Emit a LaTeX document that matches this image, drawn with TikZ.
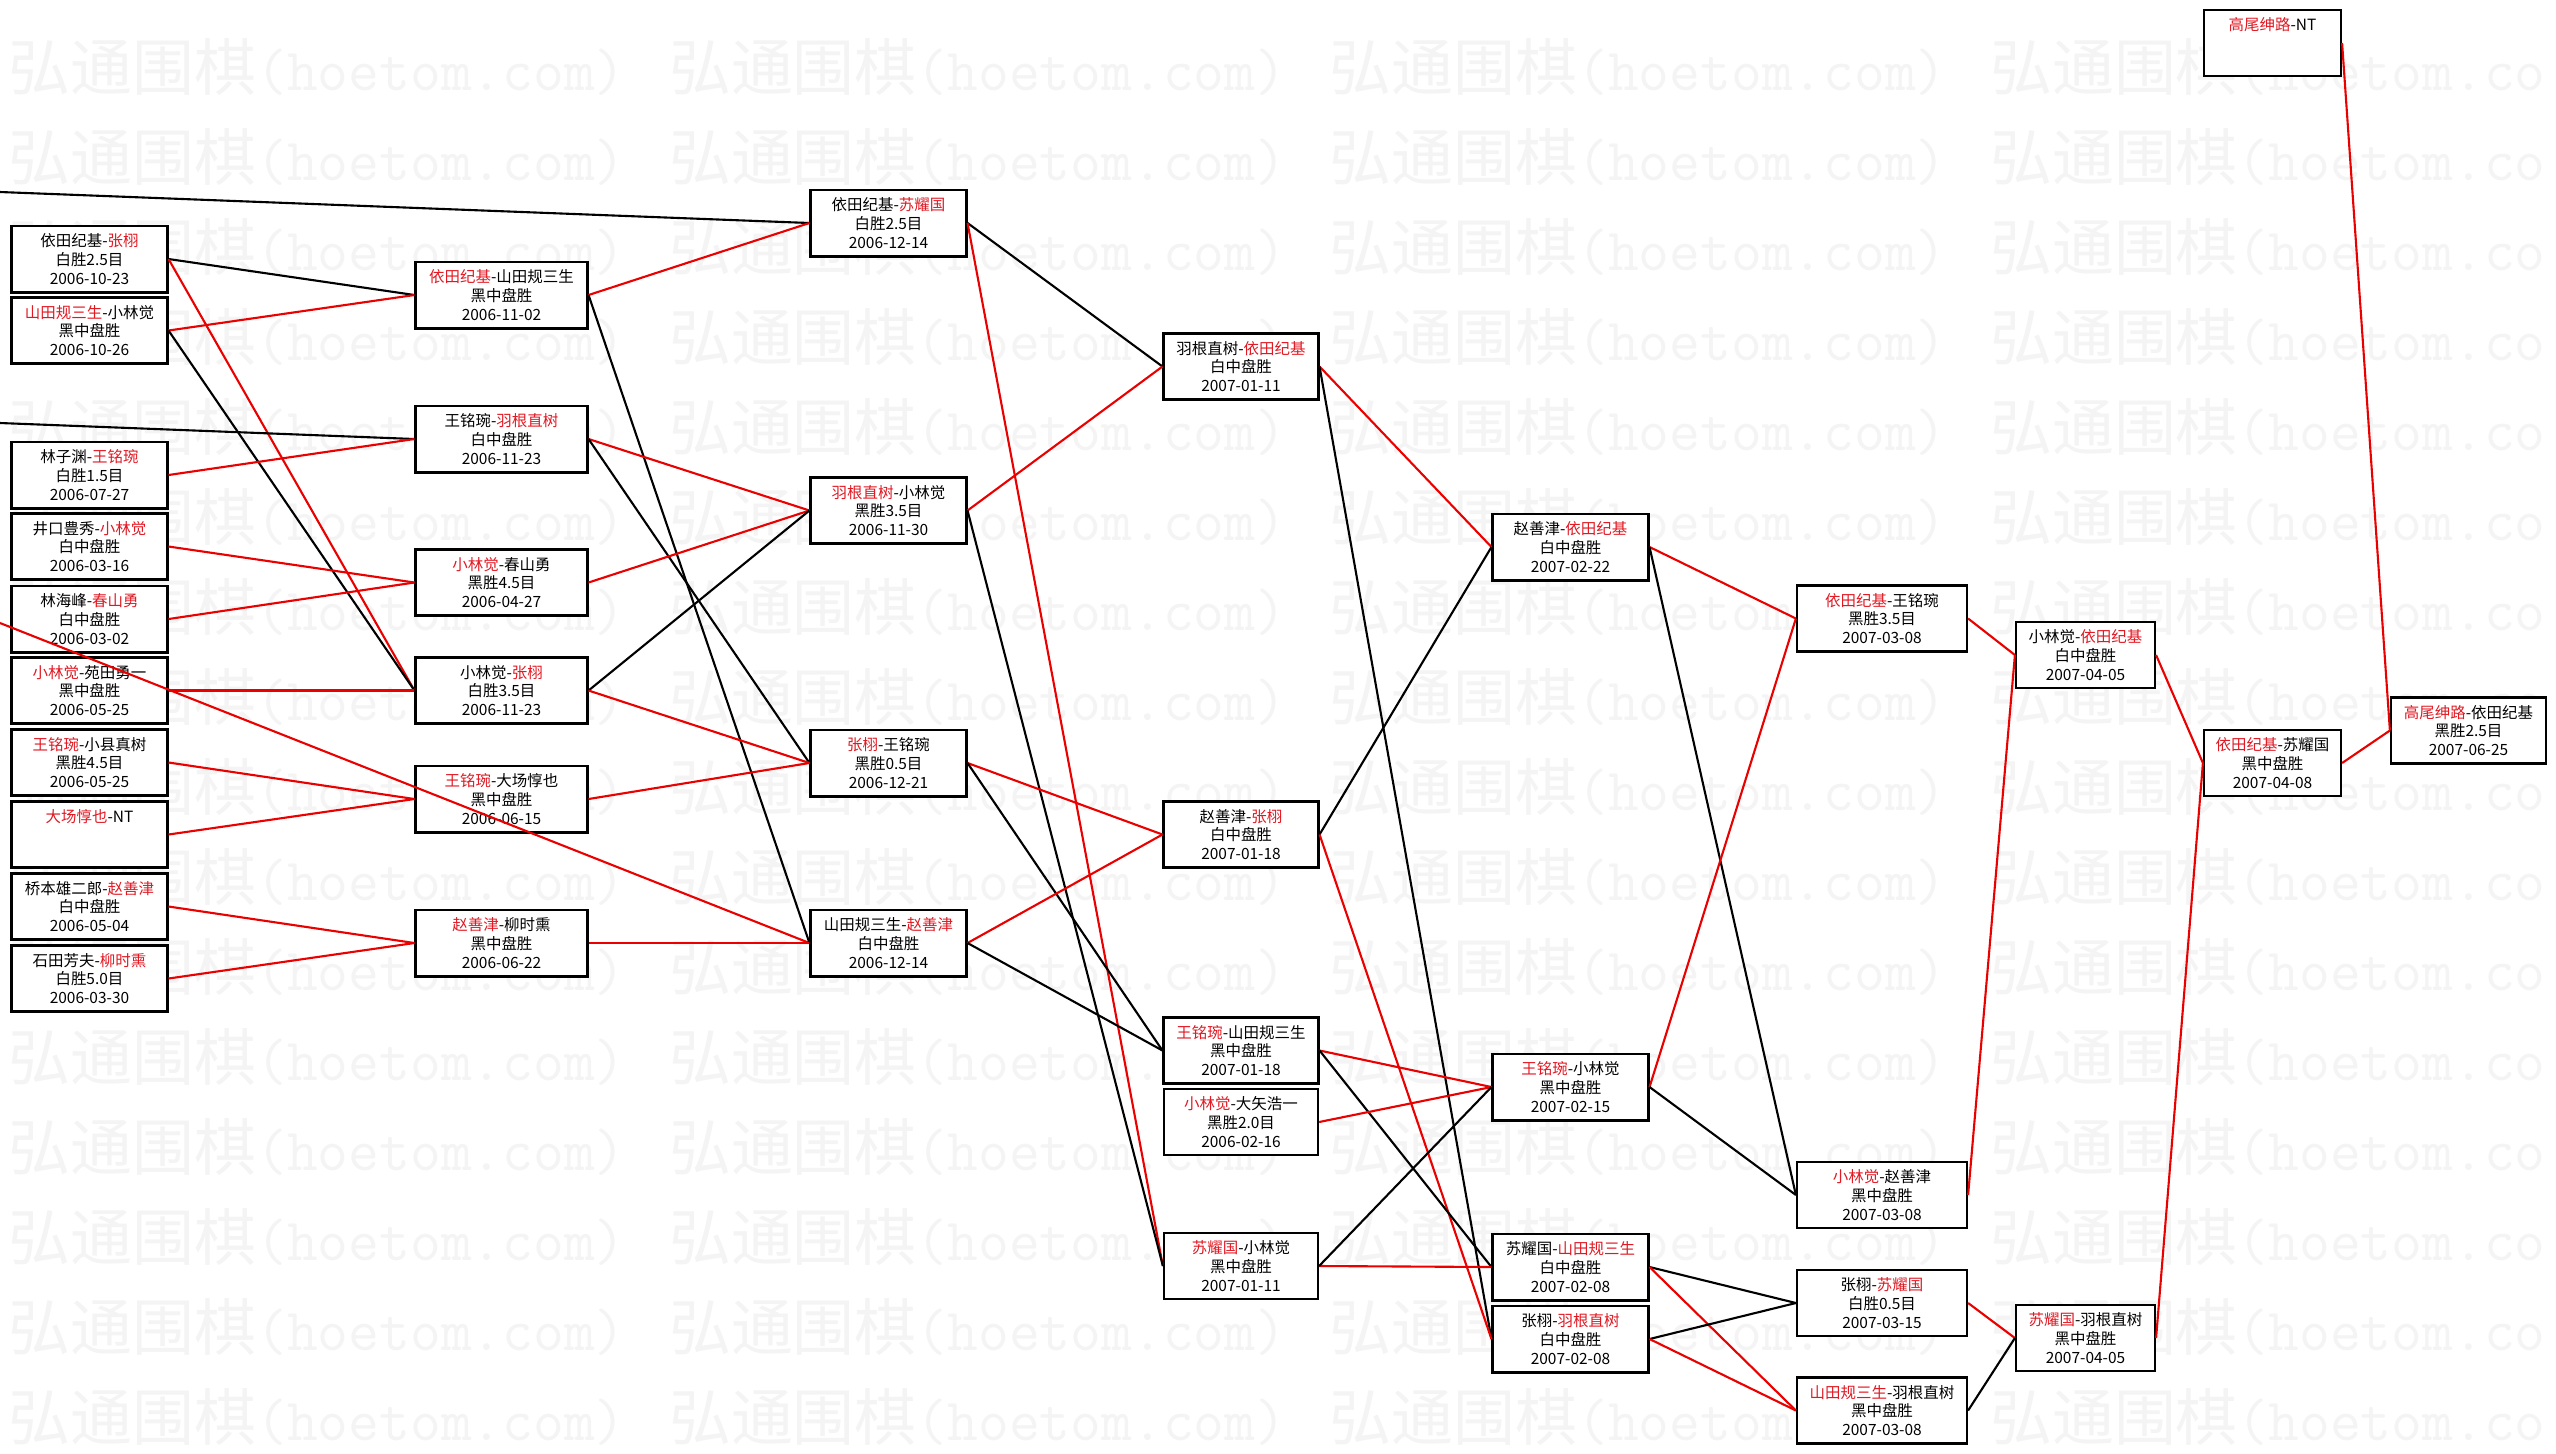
\documentclass[tikz,border=0pt]{standalone}
\usepackage{fontspec}
\setmainfont{Noto Sans CJK SC}
\definecolor{tred}{RGB}{225,25,35}
\definecolor{lred}{RGB}{235,0,0}
\definecolor{wmgray}{RGB}{244,244,244}
\newcommand{\R}[1]{\textcolor{tred}{#1}}
\newcommand{\wmlat}[1]{{\ttfamily\fontsize{17pt}{18pt}\selectfont #1}}
\tikzset{
  game/.style={draw=black, line width=0.85pt, fill=white, minimum height=0.66cm,
    inner sep=0pt, align=center, font=\fontsize{4.4pt}{5.35pt}\selectfont},
  thin game/.style={game, line width=0.6pt},
  wm/.style={anchor=west, inner sep=0pt, text=wmgray, font=\fontsize{17.6pt}{18pt}\selectfont},
  kline/.style={draw=black, line width=0.6pt},
  rline/.style={draw=lred, line width=0.6pt}
}
\begin{document}
\begin{tikzpicture}[x=0.01cm,y=-0.01cm]
\useasboundingbox (0,0) rectangle (2556,1453);
\fill[white] (0,0) rectangle (2556,1453);
% watermark
\foreach \r in {0,...,15}{
  \foreach \c in {0,1,2}{
    \node[wm] (wm-\r-\c) at ({8+660.5*\c},{67+90*\r}) {弘通围棋\wmlat{(hoetom.com)}};
  }
  \node[wm] (wm-\r-3) at (1989.5,{67+90*\r}) {弘通围棋\wmlat{(hoetom.co}};
}
% column 1
\begin{scope}[every node/.append style={game, minimum width=1.55cm}]
\node (c1a) at (89.5,259) {依田纪基-\R{张栩}\\白胜2.5目\\2006-10-23};
\node (c1b) at (89.5,330.5) {\R{山田规三生}-小林觉\\黑中盘胜\\2006-10-26};
\node (c1c) at (89.5,475) {林子渊-\R{王铭琬}\\白胜1.5目\\2006-07-27};
\node (c1d) at (89.5,546.5) {井口豊秀-\R{小林觉}\\白中盘胜\\2006-03-16};
\node (c1e) at (89.5,619) {林海峰-\R{春山勇}\\白中盘胜\\2006-03-02};
\node (c1f) at (89.5,690.5) {\R{小林觉}-苑田勇一\\黑中盘胜\\2006-05-25};
\node (c1g) at (89.5,762.5) {\R{王铭琬}-小县真树\\黑胜4.5目\\2006-05-25};
\node (c1h) at (89.5,834.5) {\R{大场惇也}-NT\\~\\~};
\node (c1i) at (89.5,906.5) {桥本雄二郎-\R{赵善津}\\白中盘胜\\2006-05-04};
\node (c1j) at (89.5,978.5) {石田芳夫-\R{柳时熏}\\白胜5.0目\\2006-03-30};
\end{scope}
% column 2
\begin{scope}[every node/.append style={game, minimum width=1.71cm}]
\node (c2a) at (501.5,295) {\R{依田纪基}-山田规三生\\黑中盘胜\\2006-11-02};
\node (c2b) at (501.5,439) {王铭琬-\R{羽根直树}\\白中盘胜\\2006-11-23};
\node (c2c) at (501.5,582.5) {\R{小林觉}-春山勇\\黑胜4.5目\\2006-04-27};
\node (c2d) at (501.5,690.5) {小林觉-\R{张栩}\\白胜3.5目\\2006-11-23};
\node (c2e) at (501.5,799) {\R{王铭琬}-大场惇也\\黑中盘胜\\2006-06-15};
\node (c2f) at (501.5,943) {\R{赵善津}-柳时熏\\黑中盘胜\\2006-06-22};
\end{scope}
% column 3
\begin{scope}[every node/.append style={game, minimum width=1.55cm}]
\node (c3a) at (888.5,223) {依田纪基-\R{苏耀国}\\白胜2.5目\\2006-12-14};
\node (c3b) at (888.5,510.5) {\R{羽根直树}-小林觉\\黑胜3.5目\\2006-11-30};
\node (c3c) at (888.5,763) {\R{张栩}-王铭琬\\黑胜0.5目\\2006-12-21};
\node (c3d) at (888.5,943) {山田规三生-\R{赵善津}\\白中盘胜\\2006-12-14};
\end{scope}
% column 4
\begin{scope}[every node/.append style={game, minimum width=1.54cm}]
\node (c4a) at (1241,366.5) {羽根直树-\R{依田纪基}\\白中盘胜\\2007-01-11};
\node (c4b) at (1241,834.5) {赵善津-\R{张栩}\\白中盘胜\\2007-01-18};
\node (c4c) at (1241,1050.5) {\R{王铭琬}-山田规三生\\黑中盘胜\\2007-01-18};
\node[line width=0.6pt] (c4d) at (1241,1122) {\R{小林觉}-大矢浩一\\黑胜2.0目\\2006-02-16};
\node[line width=0.6pt] (c4e) at (1241,1266) {\R{苏耀国}-小林觉\\黑中盘胜\\2007-01-11};
\end{scope}
% column 5
\begin{scope}[every node/.append style={game, minimum width=1.55cm}]
\node (c5a) at (1570.5,547) {赵善津-\R{依田纪基}\\白中盘胜\\2007-02-22};
\node (c5b) at (1570.5,1087) {\R{王铭琬}-小林觉\\黑中盘胜\\2007-02-15};
\node (c5c) at (1570.5,1267) {苏耀国-\R{山田规三生}\\白中盘胜\\2007-02-08};
\node (c5d) at (1570.5,1339) {张栩-\R{羽根直树}\\白中盘胜\\2007-02-08};
\end{scope}
% column 6
\begin{scope}[every node/.append style={thin game, minimum width=1.70cm}]
\node (c6a) at (1882,618.5) {\R{依田纪基}-王铭琬\\黑胜3.5目\\2007-03-08};
\node (c6b) at (1882,1195) {\R{小林觉}-赵善津\\黑中盘胜\\2007-03-08};
\node (c6c) at (1882,1303) {张栩-\R{苏耀国}\\白胜0.5目\\2007-03-15};
\node (c6d) at (1882,1410.5) {\R{山田规三生}-羽根直树\\黑中盘胜\\2007-03-08};
\end{scope}
% columns 7-9
\begin{scope}[every node/.append style={thin game, minimum width=1.39cm}]
\node (c7a) at (2085.5,655) {小林觉-\R{依田纪基}\\白中盘胜\\2007-04-05};
\node (c7b) at (2085.5,1338) {\R{苏耀国}-羽根直树\\黑中盘胜\\2007-04-05};
\end{scope}
\begin{scope}[every node/.append style={thin game, minimum width=1.37cm}]
\node (c8a) at (2272.5,43) {\R{高尾绅路}-NT\\~\\~};
\node (c8b) at (2272.5,763) {\R{依田纪基}-苏耀国\\黑中盘胜\\2007-04-08};
\end{scope}
\node[thin game, minimum width=1.55cm] (c9a) at (2468.5,730.5) {\R{高尾绅路}-依田纪基\\黑胜2.5目\\2007-06-25};
% free ends
\coordinate (f1) at (0,192);
\coordinate (f2) at (0,423);
\coordinate (f3) at (0,623);
% connectors
\draw[kline] (f1) -- (c3a.west);
\draw[kline] (c1a.east) -- (c2a.west);
\draw[rline] (c1a.east) -- (c2d.west);
\draw[rline] (c1b.east) -- (c2a.west);
\draw[kline] (c1b.east) -- (c2d.west);
\draw[kline] (f2) -- (c2b.west);
\draw[rline] (c1c.east) -- (c2b.west);
\draw[rline] (c1d.east) -- (c2c.west);
\draw[rline] (c1e.east) -- (c2c.west);
\draw[rline] (c1f.east) -- (c2d.west);
\draw[rline] (f3) -- (c3d.west);
\draw[rline] (c1g.east) -- (c2e.west);
\draw[rline] (c1h.east) -- (c2e.west);
\draw[rline] (c1i.east) -- (c2f.west);
\draw[rline] (c1j.east) -- (c2f.west);
\draw[rline] (c2a.east) -- (c3a.west);
\draw[kline] (c2a.east) -- (c3d.west);
\draw[rline] (c2b.east) -- (c3b.west);
\draw[kline] (c2b.east) -- (c3c.west);
\draw[rline] (c2c.east) -- (c3b.west);
\draw[kline] (c2d.east) -- (c3b.west);
\draw[rline] (c2d.east) -- (c3c.west);
\draw[rline] (c2e.east) -- (c3c.west);
\draw[rline] (c2f.east) -- (c3d.west);
\draw[kline] (c3a.east) -- (c4a.west);
\draw[rline] (c3a.east) -- (c4e.west);
\draw[rline] (c3b.east) -- (c4a.west);
\draw[kline] (c3b.east) -- (c4e.west);
\draw[rline] (c3c.east) -- (c4b.west);
\draw[kline] (c3c.east) -- (c4c.west);
\draw[rline] (c3d.east) -- (c4b.west);
\draw[kline] (c3d.east) -- (c4c.west);
\draw[rline] (c4a.east) -- (c5a.west);
\draw[kline] (c4a.east) -- (c5d.west);
\draw[kline] (c4b.east) -- (c5a.west);
\draw[rline] (c4b.east) -- (c5d.west);
\draw[rline] (c4c.east) -- (c5b.west);
\draw[kline] (c4c.east) -- (c5c.west);
\draw[rline] (c4d.east) -- (c5b.west);
\draw[rline] (c4e.east) -- (c5c.west);
\draw[kline] (c4e.east) -- (c5b.west);
\draw[rline] (c5a.east) -- (c6a.west);
\draw[kline] (c5a.east) -- (c6b.west);
\draw[rline] (c5b.east) -- (c6a.west);
\draw[kline] (c5b.east) -- (c6b.west);
\draw[kline] (c5c.east) -- (c6c.west);
\draw[rline] (c5c.east) -- (c6d.west);
\draw[kline] (c5d.east) -- (c6c.west);
\draw[rline] (c5d.east) -- (c6d.west);
\draw[rline] (c6a.east) -- (c7a.west);
\draw[rline] (c6b.east) -- (c7a.west);
\draw[rline] (c6c.east) -- (c7b.west);
\draw[kline] (c6d.east) -- (c7b.west);
\draw[rline] (c7a.east) -- (c8b.west);
\draw[rline] (c7b.east) -- (c8b.west);
\draw[rline] (c8b.east) -- (c9a.west);
\draw[rline] (c8a.east) -- (c9a.west);
\end{tikzpicture}
\end{document}
